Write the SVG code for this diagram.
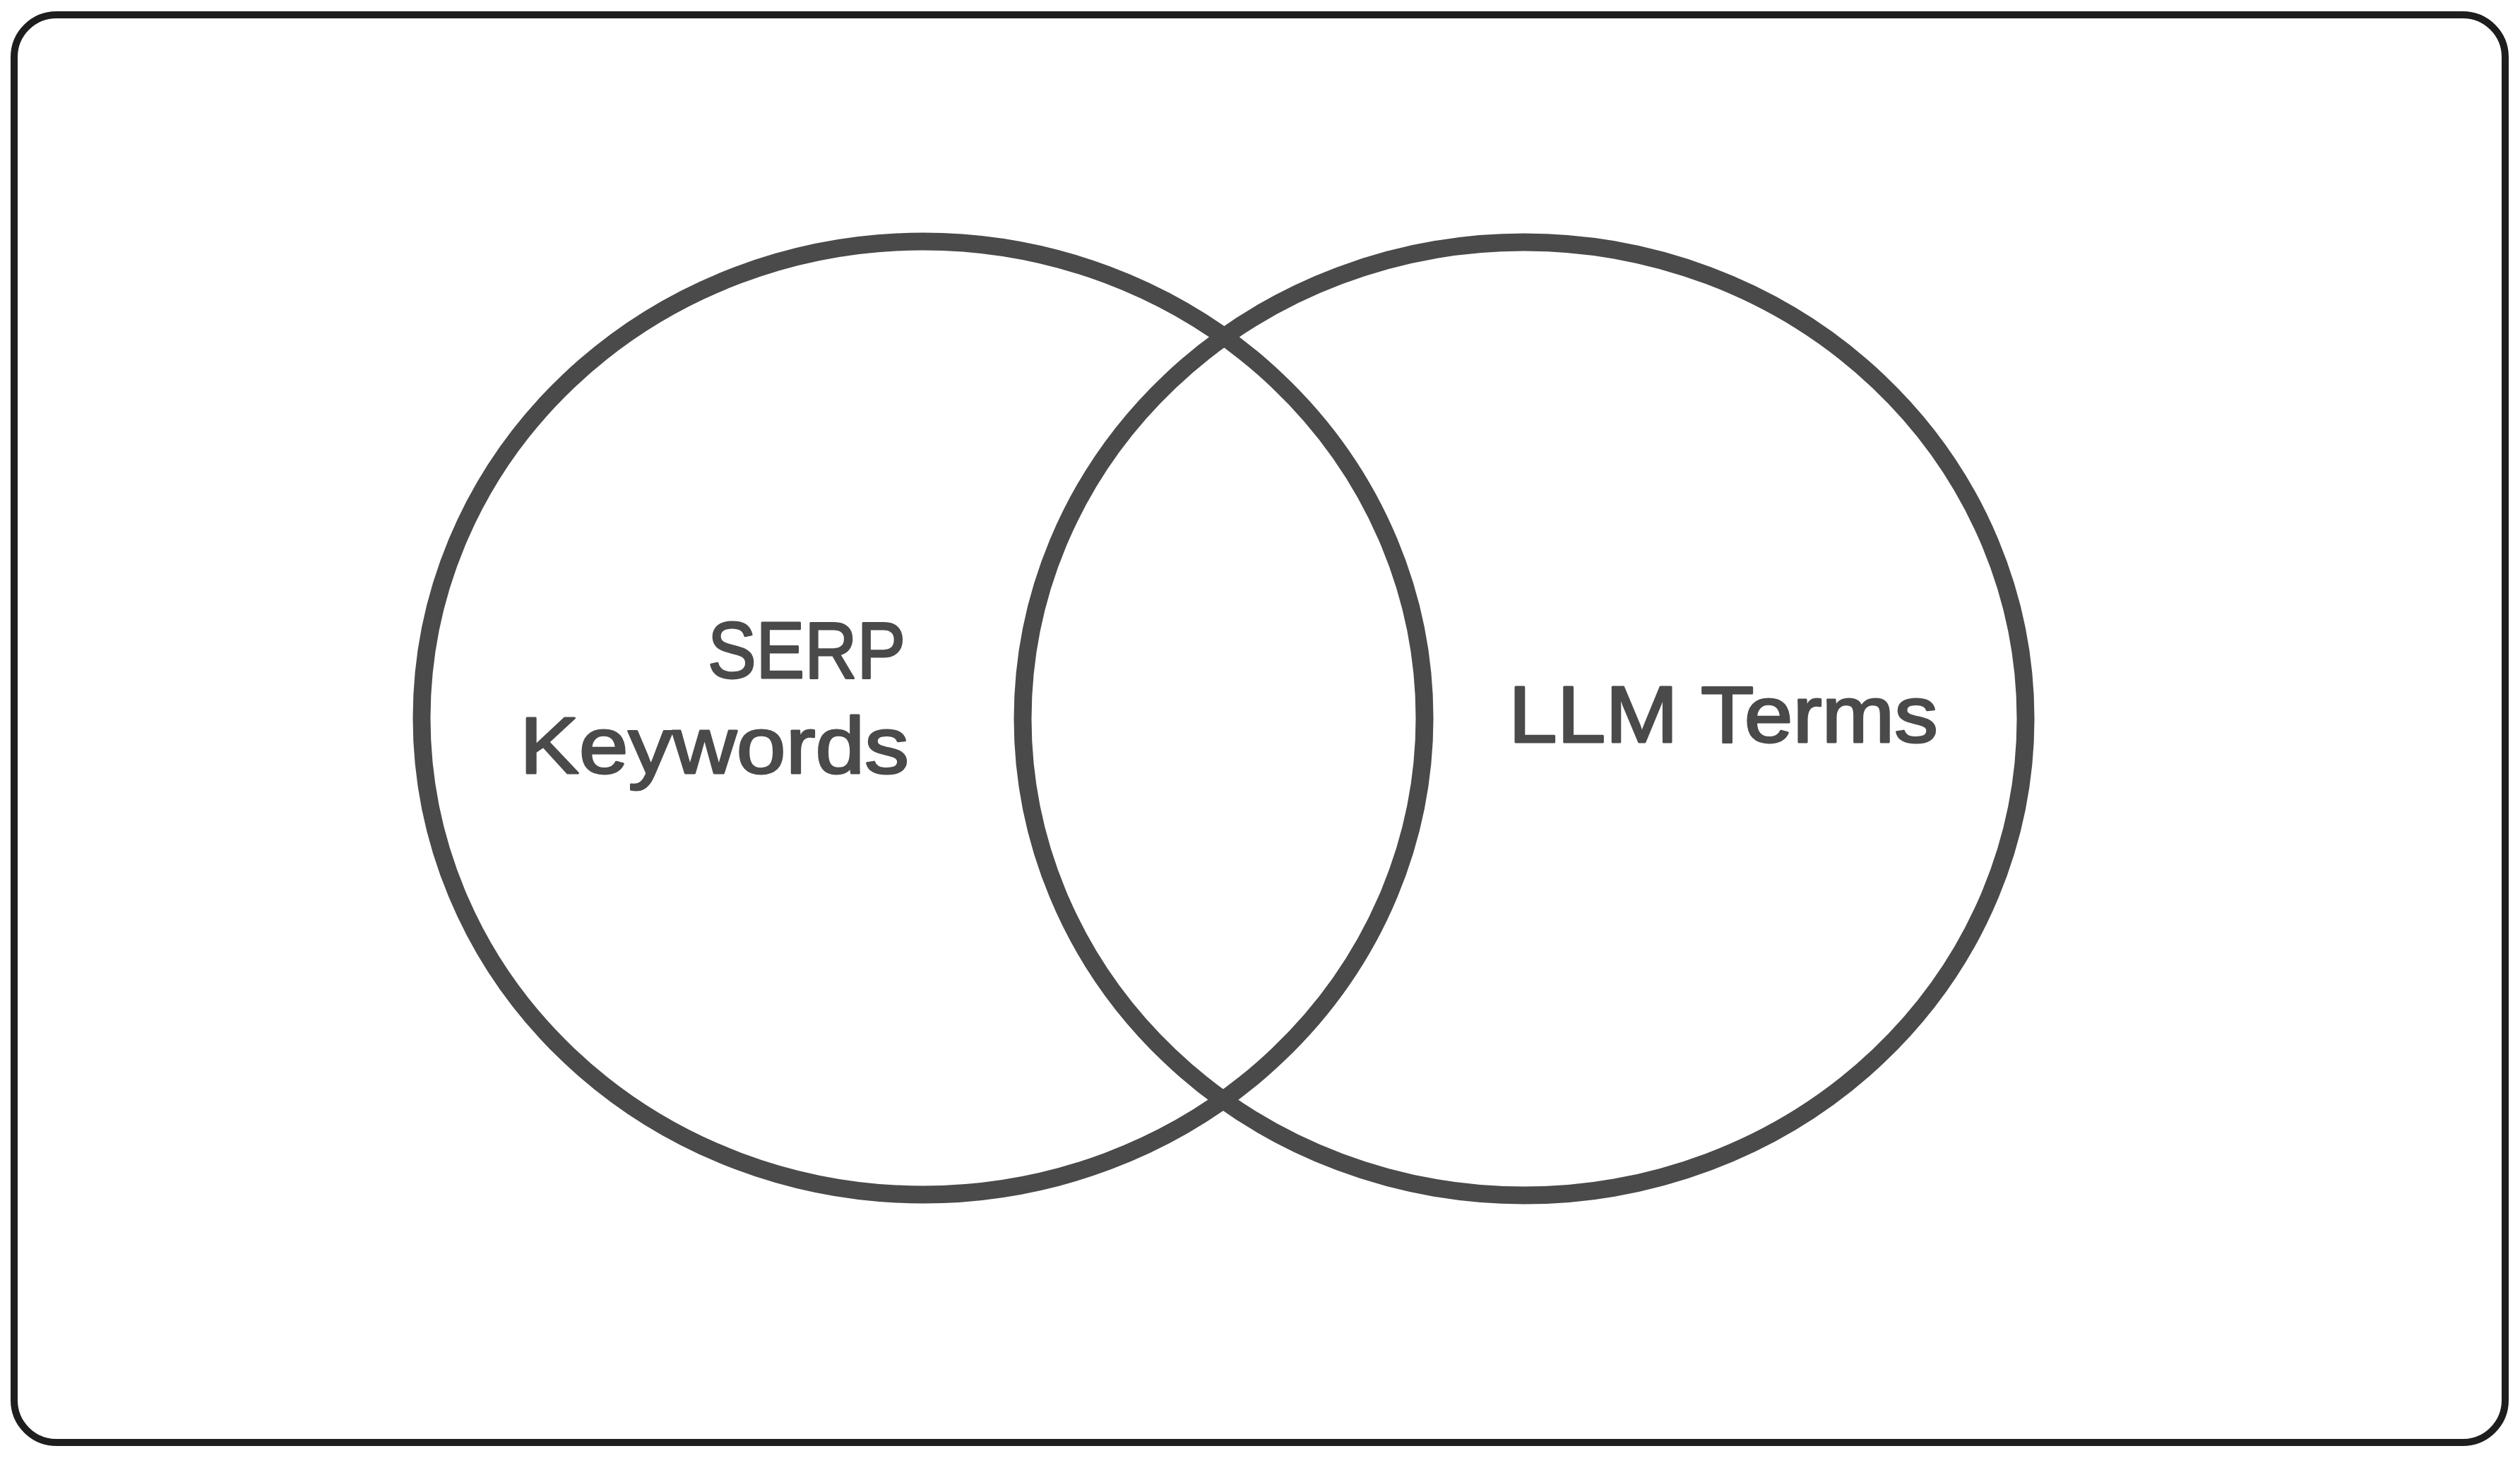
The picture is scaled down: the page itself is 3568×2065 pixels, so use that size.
<svg xmlns="http://www.w3.org/2000/svg" width="3568" height="2065" viewBox="0 0 3568 2065">
<style>
.frame{fill:#ffffff;stroke:#1e1e1e;stroke-width:10}
.circle{fill:none;stroke:#4a4a4a;stroke-width:25}
.label{font-family:"Liberation Sans",Arial,sans-serif;font-size:114px;fill:#4a4a4a;stroke:#4a4a4a;stroke-width:3;stroke-linejoin:round}
</style>
<rect width="3568" height="2065" fill="#ffffff"/>
<g id="frame">
<rect class="frame" x="20" y="21" width="3527" height="2022" rx="60" ry="60"/>
</g>
<g id="serp-keywords">
<ellipse class="circle" cx="1307" cy="1017" rx="710" ry="675"/>
<text class="label" x="1002" y="960" textLength="280" lengthAdjust="spacingAndGlyphs">SERP</text>
<text class="label" x="736" y="1095" textLength="551" lengthAdjust="spacingAndGlyphs">Keywords</text>
</g>
<g id="llm-terms">
<ellipse class="circle" cx="2158" cy="1018" rx="710" ry="675"/>
<text class="label" x="2136" y="1051" textLength="608" lengthAdjust="spacingAndGlyphs">LLM Terms</text>
</g>
<g id="connectors"></g>
</svg>
